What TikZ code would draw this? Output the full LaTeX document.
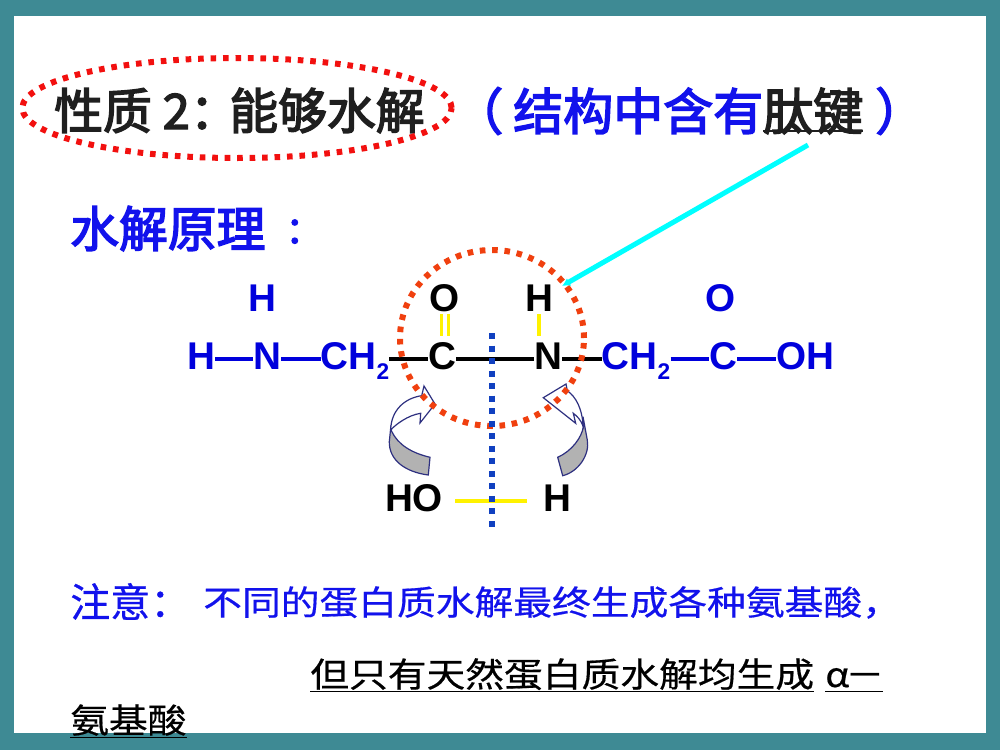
\documentclass[tikz,border=0pt]{standalone}
\usepackage{fontspec}
\usepackage{xcolor}
\usetikzlibrary{shapes.geometric,arrows.meta}
\setmainfont{Liberation Sans}
\newfontfamily\cjkheavy[FakeBold=3]{Noto Sans CJK SC}
\newfontfamily\cjknote[FakeBold=0.6]{Noto Sans CJK SC}
\newfontfamily\cjkwide[FakeStretch=1.14,FakeBold=0.5]{Noto Sans CJK SC}
\definecolor{frameteal}{HTML}{3E8A94}
\definecolor{textblue}{HTML}{1212EC}
\definecolor{chemblue}{HTML}{0000DC}
\definecolor{ringred}{HTML}{F2100F}
\definecolor{ringorange}{HTML}{F0400F}
\definecolor{cutblue}{HTML}{1040C0}
\definecolor{arrownavy}{HTML}{2E3080}
\definecolor{pointercyan}{HTML}{00FFFF}
\newcommand{\ulbar}[2][-4pt]{\sbox0{#2}\rlap{\usebox0}\rule[#1]{\wd0}{1.3pt}}
\tikzset{
  title/.style={anchor=base west, inner sep=0pt, font=\fontsize{36.6}{36}\cjkheavy},
  noteline/.style={anchor=base west, inner sep=0pt, text=black, font=\fontsize{25.5}{26}\cjkwide},
  atom/.style={inner sep=0pt, text height=21pt, text depth=6pt, font=\fontsize{29}{29}\bfseries},
  bondblue/.style={line width=2.5pt, chemblue},
  bondblack/.style={line width=2.5pt, black},
  bondyellow/.style={line width=2.6pt, yellow},
  curlgray/.style={draw=arrownavy, line width=0.9pt, fill=black!30},
  curlwhite/.style={draw=arrownavy, line width=0.9pt, fill=white},
}
\newcommand{\subtwo}{{\fontsize{17}{17}\selectfont\raisebox{-7.5pt}{2}}}
\begin{document}
\begin{tikzpicture}[x=0.75pt,y=-0.75pt]
\useasboundingbox (0,0) rectangle (1000,750);
\fill[frameteal] (0,0) rectangle (1000,750);
\fill[white] (14,16) rectangle (986,733);

% Curved arrows
\fill[curlgray] (391.5,431) .. controls (398,445) and (412,453) .. (430,457.3) -- (428.3,475)
  .. controls (405,472) and (389,460) .. (389.3,441.7) -- (390.7,428) -- cycle;
\fill[curlwhite] (421.7,395.7) .. controls (405,398) and (391,410) .. (390.7,430)
  .. controls (395,425) and (408,415) .. (420.7,413.3) -- (420,423) -- (435,404) -- (424,386) -- cycle;
\fill[curlgray] (583.3,426.7) .. controls (582,437) and (572,451) .. (557.7,457.3) -- (562.7,475.7)
  .. controls (578,472) and (590,455) .. (587.3,440) -- (583,416.7) -- cycle;
\fill[curlwhite] (567.3,390.7) .. controls (576,397) and (582,408) .. (583.3,426.7)
  .. controls (581,420) and (577,416) .. (573.3,413.3) -- (575.7,423.3) -- (543.3,397.7) -- (566,384) -- cycle;

% Headings
\node[title, text=black!88] (prop) at (54,129) {性质 2：\kern-7pt 能够水解};
\node[title, font=\fontsize{37.5}{36}\cjkheavy, text=textblue] (bracket) at (453,130) {（\kern7.5pt 结构中含有\textcolor{black!88}{\ulbar[-1.6pt]{肽键}}\kern9pt ）};
\node[title, text=textblue] (principle) at (70,247) {水解原理\kern15pt\raisebox{2.7pt}{\fontsize{28}{28}\selectfont ：}};

% Formula
\node[atom, text=chemblue] (h1) at (201,359) {H};
\node[atom, text=chemblue] (n1) at (267,359) {N};
\node[atom, text=chemblue] (ch1) at (355,359) {CH\subtwo};
\node[atom] (c1) at (442,359) {C};
\node[atom] (n2) at (548,359) {N};
\node[atom, text=chemblue] (ch2) at (636,359) {CH\subtwo};
\node[atom, text=chemblue] (c2) at (723,359) {C};
\node[atom, text=chemblue] (oh) at (805,359) {OH};
\node[atom, text=chemblue] (h0) at (262,301) {H};
\node[atom] (o1) at (445,301) {O};
\node[atom] (h2) at (539,301) {H};
\node[atom, text=chemblue] (o2) at (721,301) {O};
\node[atom] (ho) at (414,501) {HO};
\node[atom] (h3) at (557,501) {H};

% Bonds
\draw[bondblue] (h1) -- (n1);
\draw[bondblue] (n1) -- (ch1);
\draw[bondblack] (ch1) -- (c1);
\draw[bondblack] (c1) -- (n2);
\draw[bondblack] (n2) -- (ch2);
\draw[bondblue] (ch2) -- (c2);
\draw[bondblue] (c2) -- (oh);
\draw[bondyellow, shorten <=-3.7pt, shorten >=3.7pt] ([xshift=-2.6pt]o1.south) -- ([xshift=-2.6pt]o1.south |- c1.north);
\draw[bondyellow, shorten <=-3.7pt, shorten >=3.7pt] ([xshift=2.6pt]o1.south) -- ([xshift=2.6pt]o1.south |- c1.north);
\draw[bondyellow, shorten <=-3.7pt, shorten >=3.7pt] (h2.south) -- (h2.south |- n2.north);
\draw[bondyellow, shorten <=9pt, shorten >=12pt] (ho) -- (h3);

% Rings and cut line
\node[ellipse, draw=ringred, line width=4.5pt, dash pattern=on 4.2pt off 5.15pt, minimum width=322pt, minimum height=75pt] (ring1) at (237,108) {};
\node[ellipse, draw=ringorange, line width=4.5pt, dash pattern=on 4.2pt off 5.05pt, minimum width=138pt, minimum height=132pt] (ring2) at (492,338) {};
\coordinate (cuttop) at (492,333);
\coordinate (cutend) at (492,527);
\draw[cutblue, line width=4.5pt, dash pattern=on 4.5pt off 4.9pt] (cuttop) -- (cutend);

% Pointer
\coordinate (peptide) at (808,145);
\coordinate (bondend) at (562,286);
\draw[pointercyan, line width=3.75pt, -{Latex[length=6pt,width=6.5pt]}] (peptide) -- (bondend);

% Note
\node[anchor=base west, inner sep=0pt, text=textblue, font=\fontsize{30}{30}\cjknote] (note) at (70,617) {注意：};
\node[noteline, text=textblue] (noteb) at (203,615) {不同的蛋白质水解最终生成各种氨基酸，};
\node[noteline] (linea) at (310,687) {\ulbar{但只有天然蛋白质水解均生成}};
\node[noteline] (lineb) at (825,687) {\ulbar{α\kern-3pt －\kern-1pt}};
\node[noteline] (linec) at (70,733) {\ulbar{氨基酸}};
\end{tikzpicture}
\end{document}
